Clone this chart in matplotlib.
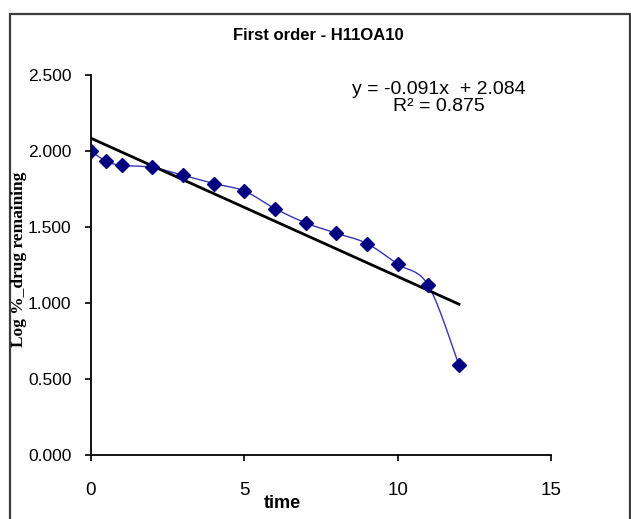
import numpy as np
import matplotlib
matplotlib.use("Agg")
from matplotlib import pyplot as plt
from matplotlib.patches import Rectangle

# data
time = [0, 0.5, 1, 2, 3, 4, 5, 6, 7, 8, 9, 10, 11, 12]
log_remaining = [2.000, 1.932, 1.906, 1.892, 1.840, 1.786, 1.737, 1.621, 1.527,
                 1.459, 1.391, 1.255, 1.116, 0.590]
slope = -0.091
intercept = 2.084
r_squared = 0.875
x_ticks = [0, 5, 10, 15]
y_ticks = [0.0, 0.5, 1.0, 1.5, 2.0, 2.5]


def smooth(xs, ys, n=20):
    # catmull-rom through the points, like excel's smoothed line
    xs = np.asarray(xs, float)
    ys = np.asarray(ys, float)
    px = np.concatenate([[xs[0]], xs, [xs[-1]]])
    py = np.concatenate([[ys[0]], ys, [ys[-1]]])
    outx, outy = [], []
    t = np.linspace(0, 1, n)
    for i in range(1, len(px) - 2):
        for p, out in ((px, outx), (py, outy)):
            p0, p1, p2, p3 = p[i - 1], p[i], p[i + 1], p[i + 2]
            out.extend(0.5 * ((2 * p1) + (-p0 + p2) * t
                              + (2 * p0 - 5 * p1 + 4 * p2 - p3) * t ** 2
                              + (-p0 + 3 * p1 - 3 * p2 + p3) * t ** 3))
    return outx, outy


plt.rcParams['font.family'] = ['Liberation Sans', 'DejaVu Sans']

fig = plt.figure(figsize=(6.31, 5.19), dpi=100)
ax = fig.add_axes([91 / 631, 1 - 455 / 519, 460 / 631, 380 / 519])

sx, sy = smooth(time, log_remaining)
ax.plot(sx, sy, color='#3535b5', lw=1.0, zorder=2)
ax.plot(time, log_remaining, ls='none', marker='D', ms=7,
        color='#000080', zorder=3)

fit_x = np.array([min(time), max(time)])
ax.plot(fit_x, slope * fit_x + intercept, color='black', lw=2.0, zorder=2)

ax.set_xlim(0, 15)
ax.set_ylim(0, 2.5)
ax.set_xticks(x_ticks)
ax.set_yticks(y_ticks)
ax.set_yticklabels(['%.3f' % v for v in y_ticks])
ax.tick_params(axis='y', direction='out', length=4, width=1.2,
               pad=10, labelsize=12.5, colors='black')
ax.tick_params(axis='x', direction='out', length=4.5, width=1.2,
               pad=15, labelsize=13.5, colors='black')
for s in ['top', 'right']:
    ax.spines[s].set_visible(False)
for s in ['left', 'bottom']:
    ax.spines[s].set_linewidth(1.3)

ax.text(439 / 631, 1 - 98 / 519,
        'y = %.3fx  + %.3f\nR² = %.3f' % (slope, intercept, r_squared),
        transform=fig.transFigure, ha='center', va='center',
        fontsize=14, linespacing=1.0)

fig.text(318 / 631, 1 - 36 / 519, 'First order - H11OA10', ha='center',
         va='center', fontsize=12, fontweight='bold')
fig.text(282 / 631, 1 - 503 / 519, 'time', ha='center', va='center',
         fontsize=13, fontweight='bold')
fig.text(19 / 631, 1 - 259 / 519, 'Log %_drug remaining', rotation=90,
         ha='center', va='center', fontsize=12.5, fontweight='bold',
         family=['Liberation Serif', 'DejaVu Serif'])

fig.patches.append(Rectangle((10 / 631, -0.05), 620 / 631, 1.05 - 14 / 519,
                             transform=fig.transFigure, fill=False,
                             edgecolor='#3c3c3c', lw=1.6))

fig.savefig('out.png', dpi=100)
